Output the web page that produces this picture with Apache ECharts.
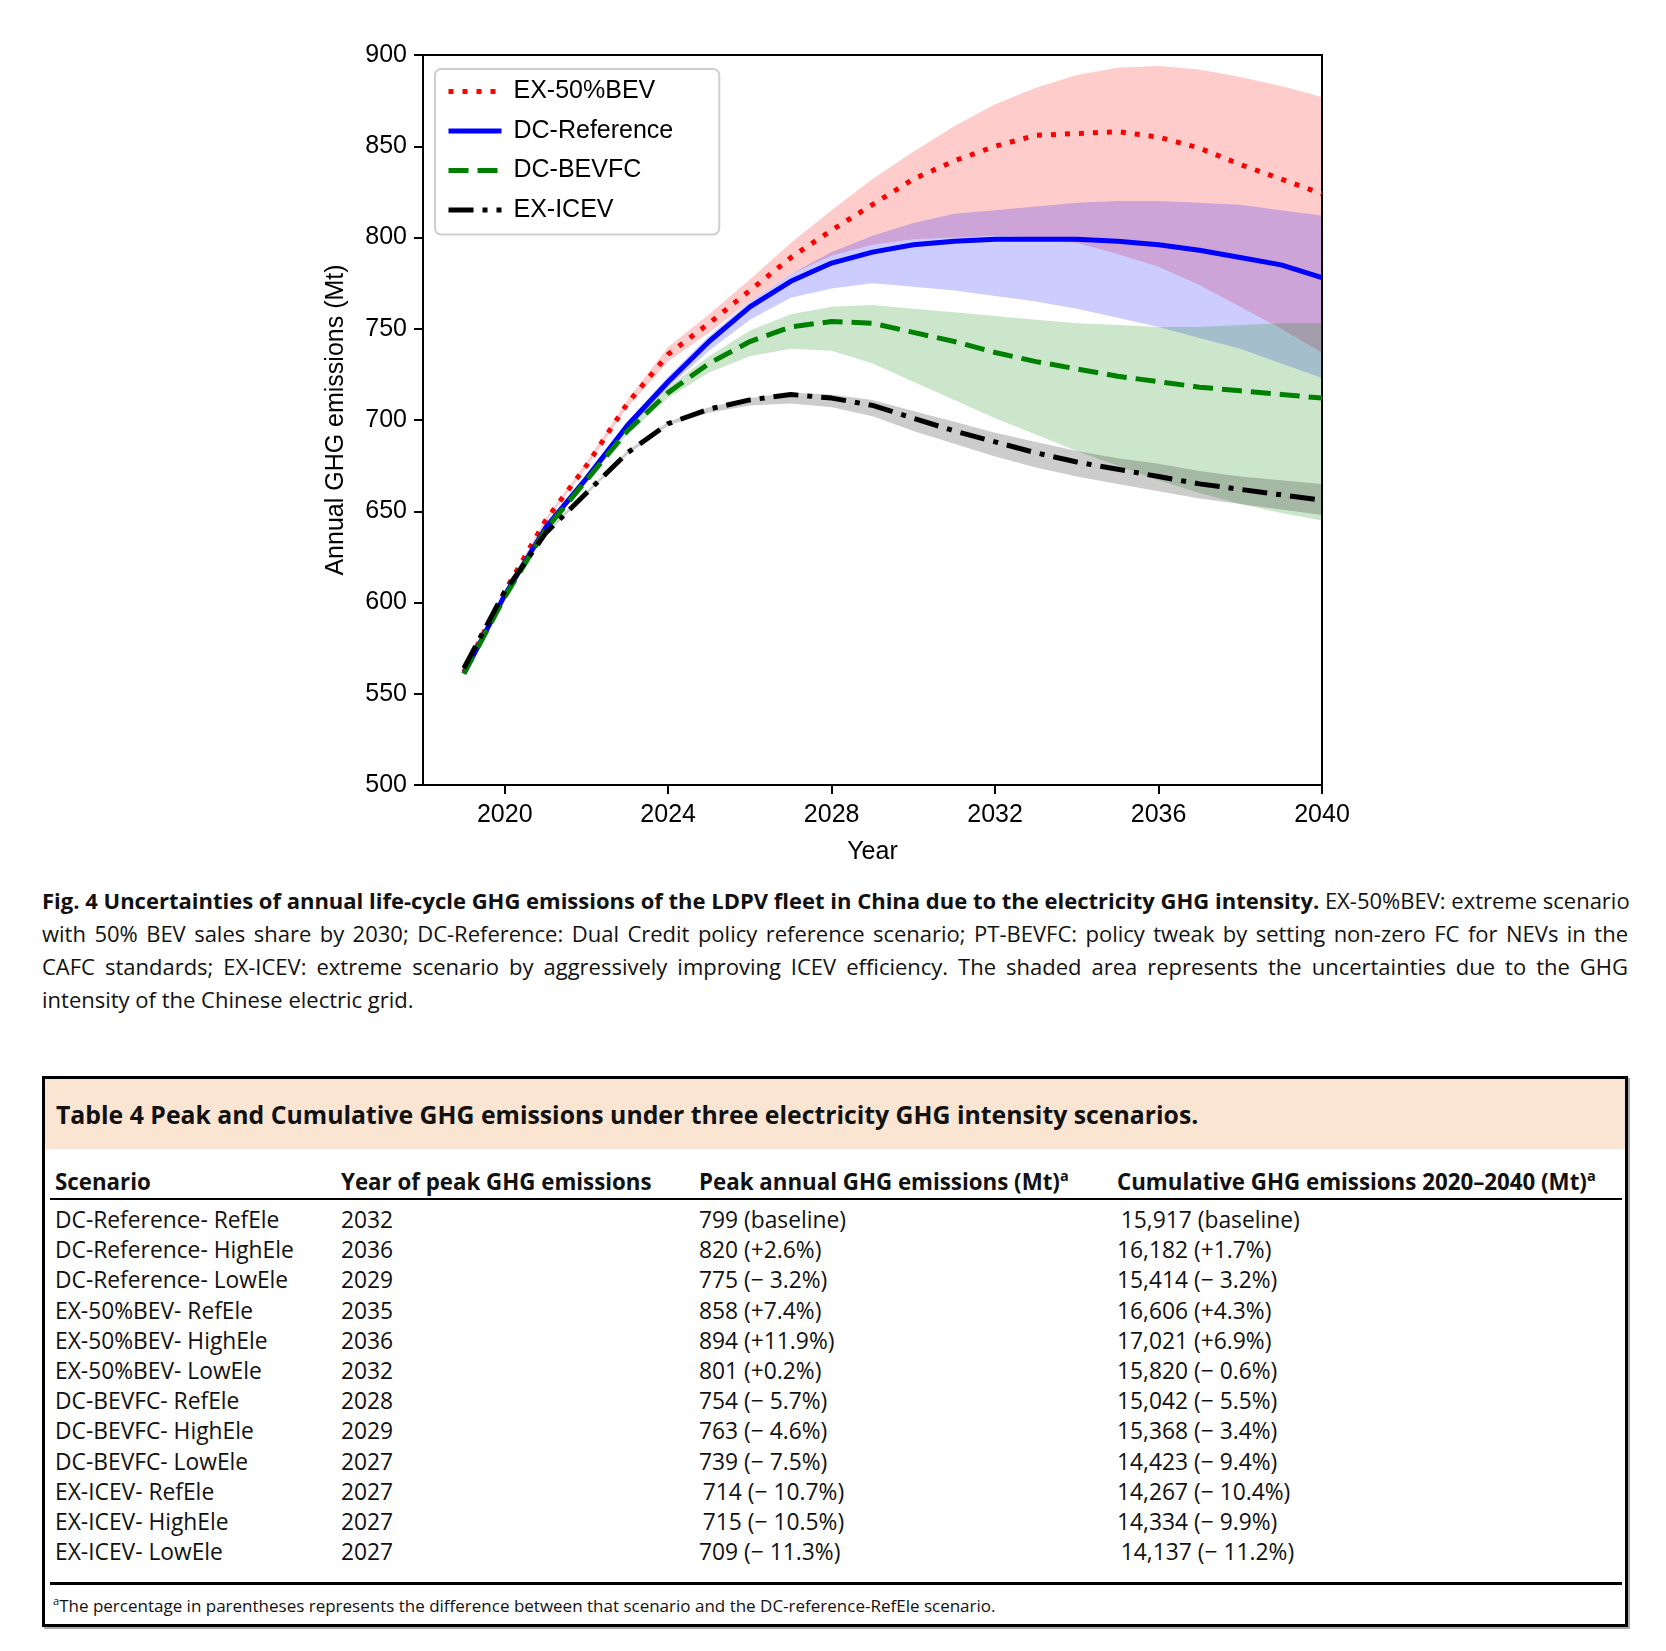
<!DOCTYPE html>
<html>
<head>
<meta charset="utf-8">
<script src="https://cdn.jsdelivr.net/npm/echarts@6/dist/echarts.min.js"></script>
<style>
  html, body { margin:0; padding:0; background:#fff; }
  body { width:1666px; height:1651px; position:relative; overflow:hidden; font-family:'Open Sans', 'Lato', sans-serif; color:#111; }
  #chart { position:absolute; left:0; top:0; width:1666px; height:880px; }
  #caption { position:absolute; left:42px; top:884px; width:1586px; font-size:22px; line-height:33px; }
  #caption .ln { text-align:justify; text-align-last:justify; white-space:nowrap; }
  #caption .ln.last { text-align-last:left; }
  #tbl { position:absolute; left:42px; top:1076px; width:1580px; height:545px; border:3px solid #000; box-shadow:2px 2px 0 #aaa; }
  #tbl .head { position:absolute; left:0; top:0; right:0; height:70px; background:#f9e5d2; }
  #tbl .title { position:absolute; left:11px; top:0; line-height:70px; font-weight:bold; font-size:24.8px; color:#111; }
  .cell { position:absolute; white-space:nowrap; font-size:22.8px; line-height:30px; }
  .hdr { font-weight:bold; font-size:22.3px; }
  sup { font-size:0.65em; line-height:0; vertical-align:0.6em; }
  .rule { position:absolute; left:5px; width:1572px; background:#000; }
  .foot { position:absolute; left:8px; font-size:17px; }
</style>
</head>
<body>
<div id="chart"></div>
<div id="caption">
  <div class="ln"><b>Fig. 4 Uncertainties of annual life-cycle GHG emissions of the LDPV fleet in China due to the electricity GHG intensity.</b> EX-50%BEV: extreme scenario</div>
  <div class="ln">with 50% BEV sales share by 2030; DC-Reference: Dual Credit policy reference scenario; PT-BEVFC: policy tweak by setting non-zero FC for NEVs in the</div>
  <div class="ln">CAFC standards; EX-ICEV: extreme scenario by aggressively improving ICEV efficiency. The shaded area represents the uncertainties due to the GHG</div>
  <div class="ln last">intensity of the Chinese electric grid.</div>
</div>
<div id="tbl">
  <div class="head"><div class="title">Table 4 Peak and Cumulative GHG emissions under three electricity GHG intensity scenarios.</div></div>
</div>
<script>
// ---------- chart data ----------
const years = [2019,2020,2021,2022,2023,2024,2025,2026,2027,2028,2029,2030,2031,2032,2033,2034,2035,2036,2037,2038,2039,2040];
const xTicks = [2020,2024,2028,2032,2036,2040];

const bevRef  = [562,606,645,675,709,736,753,771,789,804,818,832,842,850,856,857,858,855,849,840,832,824];
const bevHigh = [562,606,646,677,711,740,758,777,797,815,832,847,861,873,882,889,893,894,892,888,883,877];
const bevLow  = [562,606,644,674,707,732,748,765,780,790,796,799,800,801,800,797,791,784,774,762,750,737];

const refRef  = [561,604,641,668,697,721,743,762,776,786,792,796,798,799,799,799,798,796,793,789,785,778];
const refHigh = [561,604,641,669,699,724,746,765,780,792,801,808,813,815,817,819,820,820,819,818,815,812];
const refLow  = [561,604,640,667,695,718,738,755,767,772,775,773,771,768,765,761,756,751,745,739,731,723];

const fcRef   = [561,603,640,667,694,715,731,743,751,754,753,748,743,737,732,728,724,721,718,716,714,712];
const fcHigh  = [561,603,640,668,696,718,735,749,758,762,763,761,759,757,755,753,752,751,751,752,753,753];
const fcLow   = [561,603,639,666,692,712,726,735,739,738,731,721,711,701,692,683,675,667,660,654,649,645];

const iceRef  = [564,606,638,660,682,698,706,711,714,712,708,701,694,688,682,677,673,669,665,662,659,656];
const iceHigh = [564,606,639,661,683,699,707,712,715,714,711,705,699,693,688,683,679,676,672,669,667,665];
const iceLow  = [564,606,637,659,681,697,704,708,709,707,702,694,687,680,674,669,665,661,657,654,651,648];

const seriesNames = ['EX-50%BEV','DC-Reference','DC-BEVFC','EX-ICEV'];

// ---------- table data ----------
const colHeads = ['Scenario','Year of peak GHG emissions','Peak annual GHG emissions (Mt)<sup>a</sup>','Cumulative GHG emissions 2020–2040 (Mt)<sup>a</sup>'];
const scenarios = ['DC-Reference- RefEle','DC-Reference- HighEle','DC-Reference- LowEle','EX-50%BEV- RefEle','EX-50%BEV- HighEle','EX-50%BEV- LowEle','DC-BEVFC- RefEle','DC-BEVFC- HighEle','DC-BEVFC- LowEle','EX-ICEV- RefEle','EX-ICEV- HighEle','EX-ICEV- LowEle'];
const peakYears = ['2032','2036','2029','2035','2036','2032','2028','2029','2027','2027','2027','2027'];
const peakVals = ['799 (baseline)','820 (+2.6%)','775 (− 3.2%)','858 (+7.4%)','894 (+11.9%)','801 (+0.2%)','754 (− 5.7%)','763 (− 4.6%)','739 (− 7.5%)','\u2009714 (− 10.7%)','\u2009715 (− 10.5%)','709 (− 11.3%)'];
const cumVals = ['\u200915,917 (baseline)','16,182 (+1.7%)','15,414 (− 3.2%)','16,606 (+4.3%)','17,021 (+6.9%)','15,820 (− 0.6%)','15,042 (− 5.5%)','15,368 (− 3.4%)','14,423 (− 9.4%)','14,267 (− 10.4%)','14,334 (− 9.9%)','\u200914,137 (− 11.2%)'];
const footnote = '<sup>a</sup>The percentage in parentheses represents the difference between that scenario and the DC-reference-RefEle scenario.';

// ---------- build chart ----------
const FONT = 'Liberation Sans';
const pairs = arr => years.map((y, i) => [y, arr[i]]);

function band(hi, lo, color) {
  return {
    type: 'custom', silent: true, z: 1, clip: true,
    data: [[years[0], lo[0]]],
    renderItem: function (params, api) {
      const pts = [];
      for (let i = 0; i < years.length; i++) pts.push(api.coord([years[i], hi[i]]));
      for (let i = years.length - 1; i >= 0; i--) pts.push(api.coord([years[i], lo[i]]));
      return { type: 'polygon', shape: { points: pts }, style: { fill: color, stroke: null } };
    }
  };
}

function mainLine(name, arr, color, dash) {
  return { name: name, type: 'line', data: pairs(arr), symbol: 'none', z: 5,
    itemStyle: { color: color },
    lineStyle: { color: color, width: 5, type: dash, cap: 'butt' } };
}

const series = [
  band(bevHigh, bevLow, 'rgba(255,0,0,0.2)'),
  band(refHigh, refLow, 'rgba(0,0,255,0.2)'),
  band(fcHigh, fcLow, 'rgba(0,128,0,0.2)'),
  band(iceHigh, iceLow, 'rgba(0,0,0,0.2)'),
  mainLine(seriesNames[0], bevRef, '#ff0000', [5, 9]),
  mainLine(seriesNames[1], refRef, '#0000ff', 'solid'),
  mainLine(seriesNames[2], fcRef, '#008000', [20, 9]),
  mainLine(seriesNames[3], iceRef, '#000000', [25, 9, 5, 9])
];

const chart = echarts.init(document.getElementById('chart'), null, { renderer: 'canvas' });
chart.setOption({
  animation: false,
  grid: { left: 423, top: 55, width: 899, height: 730, show: true, borderColor: '#000', borderWidth: 2, backgroundColor: 'transparent' },
  legend: {
    data: seriesNames, orient: 'vertical', left: 435, top: 69,
    itemWidth: 53, itemHeight: 14, itemGap: 14.5,
    padding: [10, 46, 12, 11],
    borderColor: '#cfcfcf', borderWidth: 2, borderRadius: 6, backgroundColor: '#fff',
    itemStyle: { color: 'rgba(0,0,0,0)', borderWidth: 0, opacity: 0 },
    lineStyle: { width: 5 },
    textStyle: { fontSize: 25, color: '#000', fontFamily: FONT, padding: [0, 0, 0, 7] }
  },
  xAxis: {
    type: 'value', min: 2018, max: 2040,
    name: 'Year', nameLocation: 'middle', nameGap: 55,
    nameTextStyle: { fontSize: 25, color: '#000', fontFamily: FONT },
    axisLine: { show: true, onZero: false, lineStyle: { color: '#000', width: 2 } },
    axisTick: { show: true, customValues: xTicks, length: 9, lineStyle: { color: '#000', width: 2 } },
    axisLabel: { customValues: xTicks, fontSize: 25, color: '#000', margin: 18, fontFamily: FONT,
      formatter: v => String(v) },
    splitLine: { show: false }
  },
  yAxis: {
    type: 'value', min: 500, max: 900, interval: 50,
    name: 'Annual GHG emissions (Mt)', nameLocation: 'middle', nameGap: 74,
    nameTextStyle: { fontSize: 25, color: '#000', fontFamily: FONT },
    axisLine: { show: true, onZero: false, lineStyle: { color: '#000', width: 2 } },
    axisTick: { show: true, length: 9, lineStyle: { color: '#000', width: 2 } },
    axisLabel: { fontSize: 25, color: '#000', margin: 16, fontFamily: FONT },
    splitLine: { show: false }
  },
  series: series
});

// ---------- build table ----------
const tbl = document.getElementById('tbl');
const colX = [10, 296, 654, 1072];   // relative to table inner left
function addCell(text, x, y, cls) {
  const d = document.createElement('div');
  d.className = 'cell ' + (cls || '');
  d.style.left = x + 'px';
  d.style.top = (y - 15) + 'px';
  d.innerHTML = text;
  tbl.appendChild(d);
}
colHeads.forEach((h, i) => addCell(h, colX[i], 103, 'hdr'));
const r1 = document.createElement('div'); r1.className = 'rule'; r1.style.top = '119px'; r1.style.height = '2px'; tbl.appendChild(r1);
scenarios.forEach((s, i) => {
  const y = 141 + i * 30.2;
  addCell(s, colX[0], y);
  addCell(peakYears[i], colX[1], y);
  addCell(peakVals[i], colX[2], y);
  addCell(cumVals[i], colX[3], y);
});
const r2 = document.createElement('div'); r2.className = 'rule'; r2.style.top = '503px'; r2.style.height = '3px'; tbl.appendChild(r2);
const f = document.createElement('div'); f.className = 'foot'; f.style.top = '515px'; f.innerHTML = footnote; tbl.appendChild(f);
</script>
</body>
</html>
